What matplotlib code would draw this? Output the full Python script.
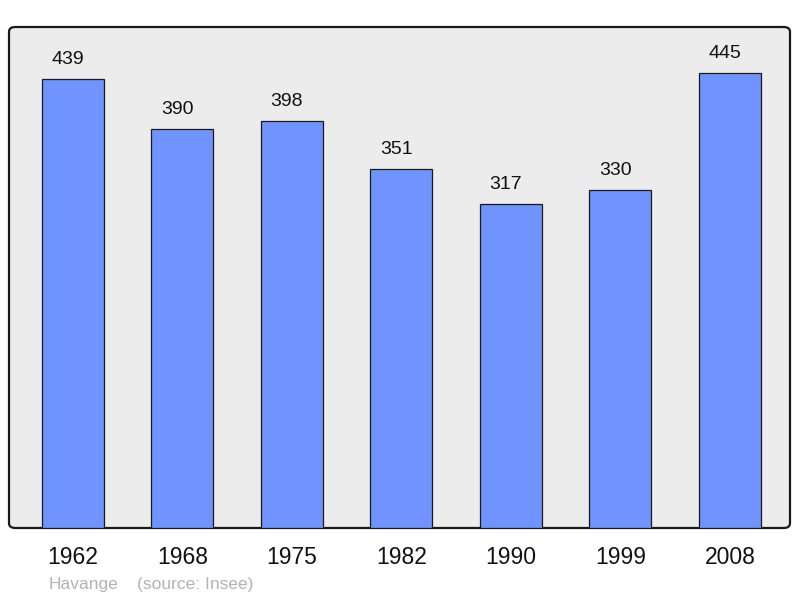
import matplotlib.pyplot as plt
from matplotlib.patches import FancyBboxPatch
import numpy as np

# Datos de población
annees = ['1962', '1968', '1975', '1982', '1990', '1999', '2008']
population = [439, 390, 398, 351, 317, 330, 445]

plt.rcParams['font.family'] = ['Liberation Sans', 'DejaVu Sans']

fig = plt.figure(figsize=(8, 5.98), dpi=100)

# Caja de fondo con esquinas redondeadas (coordenadas de figura)
W, H = 800, 598
x0, y0, x1, y1 = 9, 27, 790, 528
caja = FancyBboxPatch((x0 / W, (H - y1) / H), (x1 - x0) / W, (y1 - y0) / H,
                      boxstyle='round,pad=0,rounding_size=0.008',
                      transform=fig.transFigure, facecolor='#ececec',
                      edgecolor='#1a1a1a', linewidth=1.6, zorder=-1)
fig.patches.append(caja)

ax = fig.add_axes([x0 / W, (H - y1) / H, (x1 - x0) / W, (y1 - y0) / H])
ax.set_facecolor('none')
ax.set_zorder(1)
for s in ax.spines.values():
    s.set_visible(False)

x = np.arange(len(annees))
barras = ax.bar(x, population, width=0.566, color='#7094ff',
                edgecolor='#1a1a1a', linewidth=0.9, zorder=2)

ax.set_xlim(-0.584, 6.548)
ax.set_ylim(0, 489.8)

# Etiquetas de valor sobre cada barra (ligeramente a la izquierda, como el original)
for xi, v in zip(x, population):
    ax.annotate(str(v), (xi, v), xytext=(-3.8, 10.8), textcoords='offset points',
                ha='center', va='baseline', fontsize=14, color='#111111')

ax.set_xticks(x)
ax.set_xticklabels(annees, fontsize=16.5, color='#111111')
ax.tick_params(axis='x', length=0, pad=13)
ax.set_yticks([])

fig.text(49 / W, 1 - 584 / H, 'Havange', fontsize=12.5, color='#b3b3b3',
         ha='left', va='center')
fig.text(137 / W, 1 - 584 / H, '(source: Insee)', fontsize=12.5, color='#b3b3b3',
         ha='left', va='center')

plt.savefig('out.png', dpi=100)
